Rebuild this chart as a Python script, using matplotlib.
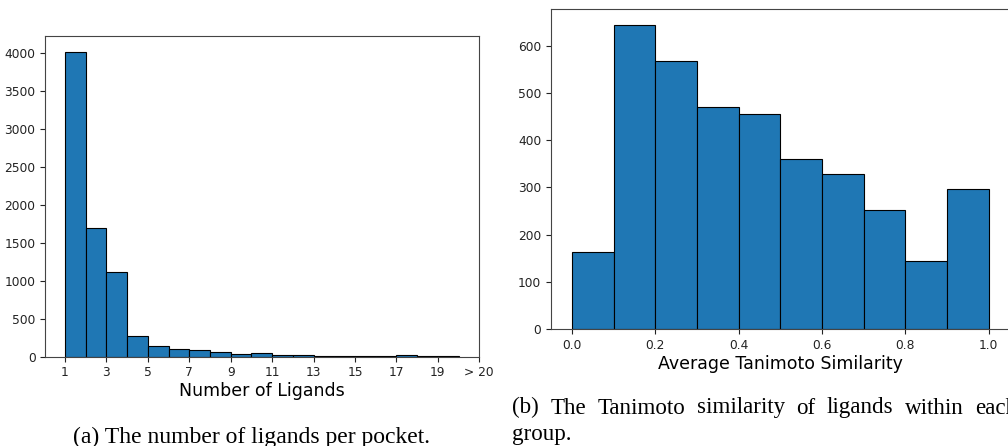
import matplotlib
matplotlib.use("Agg")
import matplotlib.pyplot as plt
import numpy as np

# Left panel: number of ligands per pocket (bins 1..20)
lig_bin_edges = list(range(1, 21))
lig_counts = [4015, 1698, 1112, 276, 141, 100, 84, 58, 31, 44, 18, 17, 15, 14, 8, 6, 20, 7, 5]
lig_tick_pos = [1, 3, 5, 7, 9, 11, 13, 15, 17, 19, 21]
lig_tick_labels = ["1", "3", "5", "7", "9", "11", "13", "15", "17", "19", "> 20"]

# Right panel: average Tanimoto similarity
tan_bin_edges = [0.0, 0.1, 0.2, 0.3, 0.4, 0.5, 0.6, 0.7, 0.8, 0.9, 1.0]
tan_counts = [164, 644, 567, 470, 455, 361, 328, 252, 145, 297]

caption_a = "(a) The number of ligands per pocket."
caption_b_words = ["(b)", "The", "Tanimoto", "similarity", "of", "ligands", "within", "each"]
caption_b2 = "group."

W, H = 1008, 446
fig = plt.figure(figsize=(W / 100, H / 100), dpi=100)

bar_color = "#1f77b4"
spine_color = "#444444"
tick_fs = 8.8
label_fs = 12.5

def style(ax):
    for s in ax.spines.values():
        s.set_color(spine_color)
        s.set_linewidth(0.8)
    ax.tick_params(labelsize=tick_fs, colors="#222222", length=3.5, width=0.8)

ax1 = fig.add_axes([45.3 / W, 1 - 356.7 / H, (479.3 - 45.3) / W, (356.7 - 36) / H])
ax1.bar(lig_bin_edges[:-1], lig_counts, width=np.diff(lig_bin_edges), align="edge",
        color=bar_color, edgecolor="black", linewidth=0.8)
ax1.set_xlim(0.05, 21.0)
ax1.set_ylim(0, 4220)
ax1.set_xticks(lig_tick_pos)
ax1.set_xticklabels(lig_tick_labels)
ax1.set_yticks(range(0, 4001, 500))
ax1.set_xlabel("Number of Ligands", fontsize=label_fs, labelpad=2)
style(ax1)

ax2 = fig.add_axes([551 / W, 1 - 329.3 / H, (1009.5 - 551) / W, (329.3 - 9.3) / H])
ax2.bar(tan_bin_edges[:-1], tan_counts, width=np.diff(tan_bin_edges), align="edge",
        color=bar_color, edgecolor="black", linewidth=0.8)
ax2.set_xlim(-0.05, 1.05)
ax2.set_ylim(0, 677)
ax2.set_xticks([0.0, 0.2, 0.4, 0.6, 0.8, 1.0])
ax2.set_yticks(range(0, 601, 100))
ax2.set_xlabel("Average Tanimoto Similarity", fontsize=label_fs, labelpad=2)
style(ax2)

serif = ["Liberation Serif", "DejaVu Serif"]
fig.text(251.7 / W, 1 - 442.7 / H, caption_a, family=serif, fontsize=17,
         ha="center", va="baseline")

# justified first caption line: spread words evenly between the line start and
# the start of the last word (which runs off the right edge, as in the reference)
line_x0, last_word_x = 512.3, 975.0
renderer = fig.canvas.get_renderer()
word_texts = [fig.text(0, 1 - 413.5 / H, w, family=serif, fontsize=16.6,
                       ha="left", va="baseline") for w in caption_b_words]
widths = [t.get_window_extent(renderer).width for t in word_texts]
gap = (last_word_x - line_x0 - sum(widths[:-1])) / (len(widths) - 1)
x = line_x0
for t, w in zip(word_texts, widths):
    t.set_x(x / W)
    x += w + gap
fig.text(line_x0 / W, 1 - 440.0 / H, caption_b2, family=serif, fontsize=16.6,
         ha="left", va="baseline")

fig.savefig("out.png", dpi=100)
